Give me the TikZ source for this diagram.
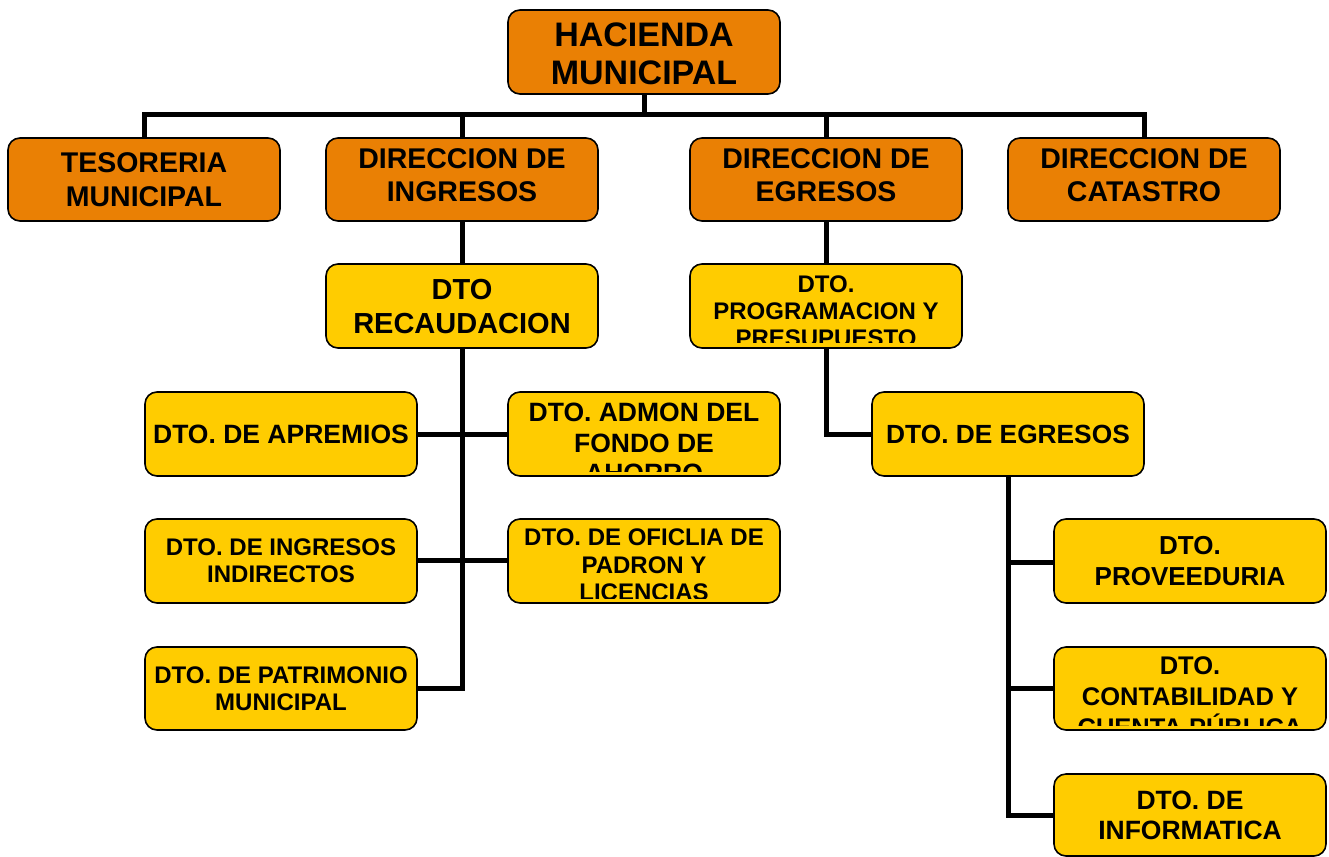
\documentclass[tikz,border=0pt]{standalone}
\usepackage{fontspec}
\setmainfont{Liberation Sans}
\definecolor{orgorange}{RGB}{234,128,4}
\definecolor{orgyellow}{RGB}{255,204,0}
\newcommand{\fs}[2]{\fontsize{#1}{#2}\selectfont}
\tikzset{
  box/.style={draw=black, line width=1.6pt, rounded corners=12pt, minimum width=272pt,
    minimum height=84pt, inner sep=0pt},
  obox/.style={box, fill=orgorange},
  ybox/.style={box, fill=orgyellow},
  txt/.style 2 args={inner sep=0pt, align=center, font={\bfseries\fs{#1}{#2}}},
  conn/.style={draw=black, line width=5pt, line join=miter},
}
\begin{document}
\begin{tikzpicture}[x=1pt,y=-1pt]
\useasboundingbox (0,0) rectangle (1329,856);
\coordinate (busy) at (0,115);
\node[obox, minimum height=84pt] (hac) at (644,52) {};
\node[obox, minimum height=83pt] (tes) at (144,179.5) {};
\node[obox, minimum height=83pt] (ing) at (462,179.5) {};
\node[obox, minimum height=83pt] (egr) at (826,179.5) {};
\node[obox, minimum height=83pt] (cat) at (1144,179.5) {};
\node[ybox] (rec) at (462,306) {};
\node[ybox] (prog) at (826,306) {};
\node[ybox] (apr) at (281,434) {};
\node[ybox] (admon) at (644,434) {};
\node[ybox] (indir) at (281,561) {};
\node[ybox] (ofic) at (644,561) {};
\node[ybox, minimum height=83pt] (patr) at (281,688.5) {};
\node[ybox] (degr) at (1008,434) {};
\node[ybox] (prov) at (1190,561) {};
\node[ybox, minimum height=83pt] (cont) at (1190,688.5) {};
\node[ybox, minimum height=82pt] (info) at (1190,815) {};

% connectors
\draw[conn] (tes.north) -- (tes.north |- busy) -| (cat.north);
\draw[conn] (hac.south) -- (hac.south |- busy);
\draw[conn] (ing.north) -- (ing.north |- busy);
\draw[conn] (egr.north) -- (egr.north |- busy);
\draw[conn] (ing.south) -- (rec.north);
\draw[conn] (egr.south) -- (prog.north);
\draw[conn] (rec.south) |- (patr.east);
\draw[conn] (apr.east) -- (admon.west);
\draw[conn] ([yshift=1pt]indir.east) -- ([yshift=1pt]ofic.west);
\draw[conn] (prog.south) |- (degr.west);
\draw[conn] (degr.south) |- (info.west);
\draw[conn] ([yshift=-1pt]prov.west) -- ([yshift=-1pt]prov.west -| degr.south);
\draw[conn] (cont.west) -- (cont.west -| degr.south);

% texts
\node[txt={34}{37.5}] (hac-t) at ([yshift=-2pt]hac) {HACIENDA\\MUNICIPAL};
\node[txt={28.5}{34}] (tes-t) at ([yshift=0pt]tes) {TESORERIA\\MUNICIPAL};
\node[txt={28.5}{33}] (ing-t) at ([yshift=4pt]ing) {DIRECCION DE\\INGRESOS};
\node[txt={28.5}{33}] (egr-t) at ([yshift=4pt]egr) {DIRECCION DE\\EGRESOS};
\node[txt={28.5}{33}] (cat-t) at ([yshift=4pt]cat) {DIRECCION DE\\CATASTRO};
\node[txt={29}{34}] (rec-t) at ([yshift=-1pt]rec) {DTO\\RECAUDACION};
\node[txt={26.5}{31}] (apr-t) at (apr) {DTO. DE APREMIOS};
\node[txt={24}{27}] (indir-t) at (indir) {DTO. DE INGRESOS\\INDIRECTOS};
\node[txt={24}{27}] (patr-t) at (patr) {DTO. DE PATRIMONIO\\MUNICIPAL};
\node[txt={26.3}{31}] (degr-t) at (degr) {DTO. DE EGRESOS};
\node[txt={26}{31}] (prov-t) at ([yshift=-0.5pt]prov) {DTO.\\PROVEEDURIA};
\node[txt={26.5}{30}] (info-t) at (info) {DTO. DE\\INFORMATICA};
\begin{scope}
\clip ([yshift=-2pt]prog.north west) rectangle ([yshift=6pt]prog.south east);
\node[txt={24}{27}] (prog-t) at ([yshift=-5pt]prog) {DTO.\\PROGRAMACION Y\\PRESUPUESTO};
\end{scope}
\begin{scope}
\clip ([yshift=-2pt]admon.north west) rectangle ([yshift=5pt]admon.south east);
\node[txt={26.5}{30.5}] (admon-t) at ([yshift=-9pt]admon) {DTO. ADMON DEL\\FONDO DE\\AHORRO};
\end{scope}
\begin{scope}
\clip ([yshift=-2pt]ofic.north west) rectangle ([yshift=5pt]ofic.south east);
\node[txt={24}{27.5}] (ofic-t) at ([yshift=-4pt]ofic) {DTO. DE OFICLIA DE\\PADRON Y\\LICENCIAS};
\end{scope}
\begin{scope}
\clip ([yshift=-2pt]cont.north west) rectangle ([yshift=5pt]cont.south east);
\node[txt={25.5}{31}] (cont-t) at ([yshift=-8.5pt]cont) {DTO.\\CONTABILIDAD Y\\CUENTA PÚBLICA};
\end{scope}
\end{tikzpicture}
\end{document}
